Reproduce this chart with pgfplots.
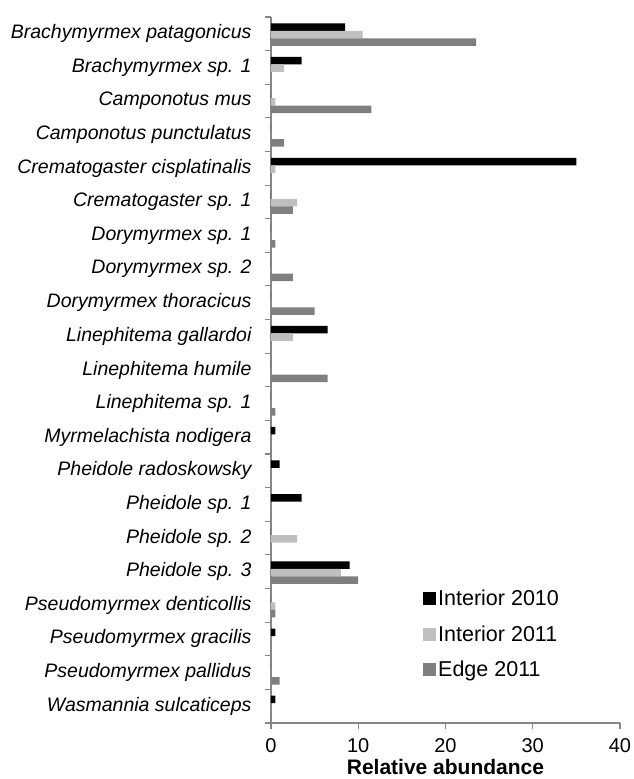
\documentclass[border=0pt]{standalone}
\usepackage{fontspec}
\setmainfont{Liberation Sans}
\usepackage{pgfplots}
\pgfplotsset{compat=1.18}
\usepackage{pgfplotstable}
\definecolor{lightbar}{HTML}{BFBFBF}
\definecolor{darkbar}{HTML}{7F7F7F}
\definecolor{axisgray}{HTML}{868686}
\pgfplotsset{sqlegend/.style={legend image code/.code={\fill[##1] (0bp,-6.5bp) rectangle (13bp,6.5bp);}}}

\pgfplotstableread{
y  i2010 i2011 e2011
20 8.5   10.5  23.5
19 3.5   1.5   0
18 0     0.5   11.5
17 0     0     1.5
16 35    0.5   0
15 0     3     2.5
14 0     0     0.5
13 0     0     2.5
12 0     0     5
11 6.5   2.5   0
10 0     0     6.5
9  0     0     0.5
8  0.5   0     0
7  1     0     0
6  3.5   0     0
5  0     3     0
4  9     8     10
3  0     0.5   0.5
2  0.5   0     0
1  0     0     1
0  0.5   0     0
}\data

\begin{document}
\begin{tikzpicture}
\begin{axis}[name=ax, scale only axis, width=349bp, height=706bp,
  xbar, bar width=7.5bp,
  xmin=0, xmax=40, ymin=-0.5, ymax=20.5,
  axis lines*=left,
  axis line style={draw=axisgray, line width=1.1bp},
  tick align=outside, major tick length=6bp, minor tick length=6bp,
  tick style={draw=axisgray, line width=1.1bp},
  every major y tick/.append style={draw=none},
  xtick={0,10,20,30,40},
  ytick={0,...,20},
  minor ytick={-0.5,0.5,...,20.5},
  yticklabels={Wasmannia sulcaticeps, Pseudomyrmex pallidus, Pseudomyrmex gracilis, Pseudomyrmex denticollis, Pheidole sp. 3, Pheidole sp. 2, Pheidole sp. 1, Pheidole radoskowsky, Myrmelachista nodigera, Linephitema sp. 1, Linephitema humile, Linephitema gallardoi, Dorymyrmex thoracicus, Dorymyrmex sp. 2, Dorymyrmex sp. 1, Crematogaster sp. 1, Crematogaster cisplatinalis, Camponotus punctulatus, Camponotus mus, Brachymyrmex sp. 1, Brachymyrmex patagonicus},
  yticklabel style={font=\fontsize{19.5bp}{22bp}\selectfont\itshape, anchor=east, xshift=-10bp},
  xticklabel style={font=\fontsize{20bp}{23bp}\selectfont, yshift=-6bp},
  /pgf/number format/assume math mode=true,
  xlabel={\textbf{Relative abundance}},
  xlabel style={font=\fontsize{21bp}{24bp}\selectfont, at={(axis description cs:0.5,0)}, anchor=base, yshift=-51bp},
  legend style={draw=none, fill=none, inner sep=0pt, at={(axis description cs:0.4355,0.1913)}, anchor=north west,
    font=\fontsize{21.5bp}{25bp}\selectfont, row sep=14.5bp, nodes={inner sep=2bp}},
  legend cell align=left,
]
\addplot[fill=black, draw=none, bar shift=6.7bp, sqlegend] table[x=i2010,y=y]{\data};
\addplot[fill=lightbar, draw=none, bar shift=-0.8bp, sqlegend] table[x=i2011,y=y]{\data};
\addplot[fill=darkbar, draw=none, bar shift=-8.3bp, sqlegend] table[x=e2011,y=y]{\data};
\legend{Interior 2010, Interior 2011, Edge 2011}
\end{axis}
\pgfresetboundingbox
\path ([xshift=-271bp,yshift=-56bp]ax.south west) rectangle ([xshift=363bp,yshift=723bp]ax.south west);
\end{tikzpicture}
\end{document}
